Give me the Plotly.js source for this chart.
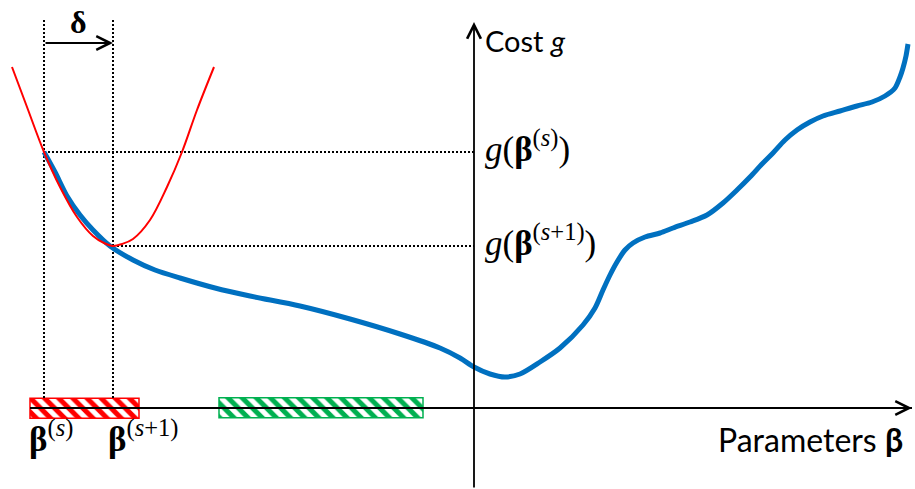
<!DOCTYPE html>
<html>
<head>
<meta charset="utf-8">
<script src="https://cdn.plot.ly/plotly-3.0.1.min.js"></script>
<style>
  html, body { margin: 0; padding: 0; background: #fff; }
  #plot { width: 915px; height: 489px; }
</style>
</head>
<body>
<div id="plot"></div>
<script>
// Cost curve g(beta) (origin = where the two axes cross)
let costX = [-430, -419, -407, -394, -381, -364, -341, -319, -294, -259, -224, -174, -124, -74, -34, -14,
  0, 16, 31, 46, 66, 86, 109, 121, 129, 136, 143, 151, 159, 171, 186, 199, 216, 233, 249, 263, 276,
  288, 299, 311, 323, 336, 349, 366, 383, 398, 411, 421, 426, 429, 432, 434];
let costY = [256, 236, 212, 193, 178, 162, 148, 138, 130, 120, 112, 102, 89, 74, 60, 50,
  41, 34, 31, 34, 46, 60, 83, 100, 118, 133, 146, 158, 165, 171, 175, 180, 186, 193, 205, 218, 231,
  244, 255, 268, 278, 286, 292, 297, 302, 306, 312, 320, 331, 340, 352, 364];

// Local quadratic approximation (red)
let quadX = [-462, -447, -430, -414, -397, -381, -370, -361, -352, -341, -324, -307, -292, -277, -260];
let quadY = [341, 301, 256, 221, 191, 172, 165, 162, 164, 169, 188, 221, 256, 298, 341];

// iterates beta(s), beta(s+1) and their costs
let betaIter = [-430, -361];
let costIter = [256, 162];

// hatched intervals on the parameter axis
let bandStart = [-444, -255];
let bandEnd = [-335, -51];
let bandColor = ['#FF0000', '#00B050'];

let axisTop = 386;
let axisRight = 438;
let axisBottom = -81;

let traces = [];

// horizontal axis line (under the hatched bands)
traces.push({
  x: [bandStart[0], axisRight], y: [0, 0], mode: 'lines',
  line: {color: 'black', width: 2}, hoverinfo: 'skip'
});

// dotted guides
betaIter.forEach((b, i) => {
  traces.push({
    x: [b, b], y: [10, 390], mode: 'lines',
    line: {color: 'black', width: 2, dash: '2px,2px'}, hoverinfo: 'skip'
  });
  traces.push({
    x: [b, 0], y: [costIter[i], costIter[i]], mode: 'lines',
    line: {color: 'black', width: 2, dash: '2px,2px'}, hoverinfo: 'skip'
  });
});

// hatched bands
bandStart.forEach((s, i) => {
  traces.push({
    type: 'bar', orientation: 'h',
    y: [0], x: [bandEnd[i] - s], base: [s], width: 20,
    marker: {
      color: 'white',
      line: {color: bandColor[i], width: 1.5},
      pattern: {shape: '\\', fgcolor: bandColor[i], bgcolor: 'white', size: 10, solidity: 0.5}
    },
    hoverinfo: 'skip'
  });
});

// cost curve
traces.push({
  x: costX, y: costY, mode: 'lines',
  line: {color: '#0070C0', width: 5, shape: 'spline', smoothing: 0.8}, hoverinfo: 'skip'
});

// quadratic
traces.push({
  x: quadX, y: quadY, mode: 'lines',
  line: {color: '#FF0000', width: 2, shape: 'spline', smoothing: 1}, hoverinfo: 'skip'
});

let serif = 'Liberation Serif, serif';
let sans = 'Lato, sans-serif';

let annotations = [
  // vertical axis
  {x: 0, y: axisTop, ax: 0, ay: axisBottom, axref: 'x', ayref: 'y', text: '',
   showarrow: true, arrowhead: 5, arrowsize: 1.5, arrowwidth: 1.8, arrowcolor: 'black'},
  // arrowhead of horizontal axis
  {x: axisRight, y: 0, ax: axisRight - 40, ay: 0, axref: 'x', ayref: 'y', text: '',
   showarrow: true, arrowhead: 5, arrowsize: 1.5, arrowwidth: 1.8, arrowcolor: 'black'},
  // step delta
  {x: betaIter[1], y: 365, ax: betaIter[0], ay: 365, axref: 'x', ayref: 'y', text: '',
   showarrow: true, arrowhead: 5, arrowsize: 1.5, arrowwidth: 1.8, arrowcolor: 'black'},
  {x: (betaIter[0] + betaIter[1]) / 2, y: 386, text: '<b>δ</b>', showarrow: false,
   font: {family: serif, size: 32, color: 'black'}},

  {x: 9, y: 368, xanchor: 'left', text: 'Cost <i>g</i>', showarrow: false,
   font: {family: sans, size: 29, color: 'black'}},
  {x: 9, y: costIter[0] + 6, xanchor: 'left', text: '<i>g</i>(<b>β</b><sup>(<i>s</i>)</sup>)', showarrow: false,
   font: {family: serif, size: 35, color: 'black'}},
  {x: 9, y: costIter[1] + 6, xanchor: 'left', text: '<i>g</i>(<b>β</b><sup>(<i>s</i>+1)</sup>)', showarrow: false,
   font: {family: serif, size: 35, color: 'black'}},

  {x: -447, y: -28, xanchor: 'left', text: '<b>β</b><sup>(<i>s</i>)</sup>', showarrow: false,
   font: {family: serif, size: 35, color: 'black'}},
  {x: -368, y: -28, xanchor: 'left', text: '<b>β</b><sup>(<i>s</i>+1)</sup>', showarrow: false,
   font: {family: serif, size: 35, color: 'black'}},
  {x: 431, y: -31, xanchor: 'right', text: 'Parameters <b>β</b>', showarrow: false,
   font: {family: sans, size: 32, color: 'black'}}
];

let layout = {
  width: 915, height: 489,
  margin: {l: 0, r: 0, t: 0, b: 0},
  paper_bgcolor: 'white', plot_bgcolor: 'white',
  showlegend: false,
  xaxis: {range: [-474, 441], visible: false, fixedrange: true},
  yaxis: {range: [-81, 408], visible: false, fixedrange: true},
  annotations: annotations
};

Plotly.newPlot('plot', traces, layout, {displayModeBar: false, staticPlot: true});
</script>
</body>
</html>
